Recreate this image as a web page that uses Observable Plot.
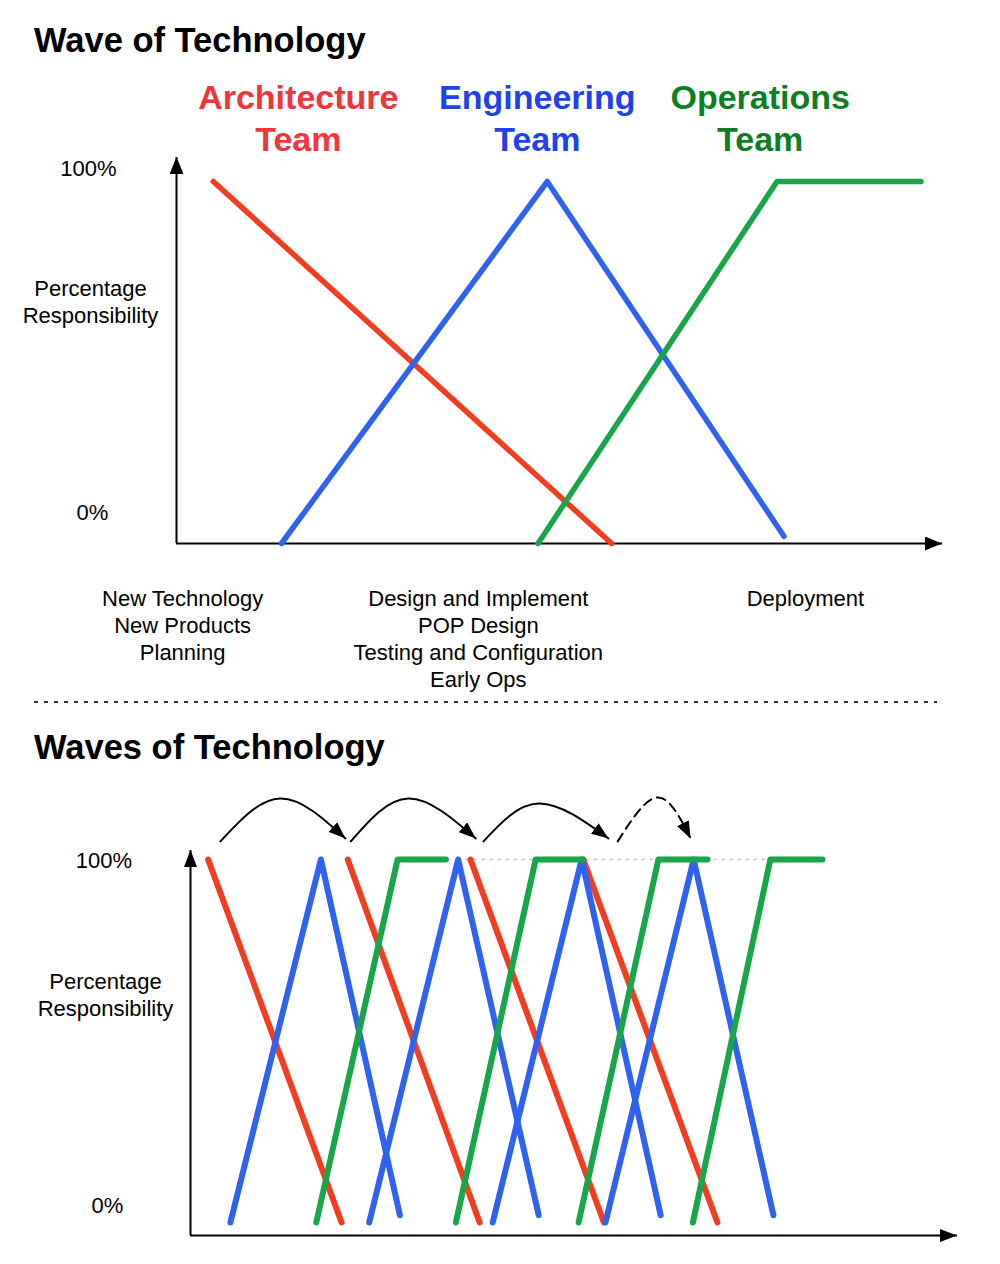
<!DOCTYPE html>
<html>
<head>
<meta charset="utf-8">
<script src="https://cdn.jsdelivr.net/npm/d3@7"></script>
<script src="https://cdn.jsdelivr.net/npm/@observablehq/plot@0.6"></script>
<style>
  body { margin: 0; background: #fff; font-family: "Liberation Sans", Arial, Helvetica, sans-serif; }
  #page { position: relative; width: 1000px; height: 1264px; overflow: hidden; background: #fff; }
  .title { position: absolute; left: 34px; font-size: 34.5px; font-weight: bold; line-height: 34px; color: #000; white-space: nowrap; }
  #t1 { top: 23px; }
  #t2 { top: 730px; }
  #sep { position: absolute; left: 34px; top: 701px; width: 903px; height: 2px;
         background: repeating-linear-gradient(to right, #333 0 4px, transparent 4px 10px); }
  .chart { position: absolute; left: 0; }
  #c1 { top: 70px; }
  #c2 { top: 770px; }
</style>
</head>
<body>
<div id="page">
  <div class="title" id="t1">Wave of Technology</div>
  <div id="sep"></div>
  <div class="title" id="t2">Waves of Technology</div>
  <div class="chart" id="c1"></div>
  <div class="chart" id="c2"></div>
</div>
<script>
// ---------- shared ----------
const FONT = '"Liberation Sans", Arial, Helvetica, sans-serif';
const teamNames = ["Architecture\nTeam", "Engineering\nTeam", "Operations\nTeam"];
const yTicks = [0, 100];
const yTickLabels = ["0%", "100%"];
const yTitle = "Percentage\nResponsibility";

// ---------- chart 1: one wave (x = time units 0..100, y = % responsibility) ----------
const archX = [4.8, 56.8];
const archY = [100, 0];
const engX = [13.7, 48.4, 79.3];
const engY = [0, 100, 2];
const opsX = [47.2, 78.4, 97.2];
const opsY = [0, 100, 100];
const teamLabelX = [15.9, 47.1, 76.2];
const phaseX = [0.8, 39.4, 82.1];
const phaseLabels = [
  "New Technology\nNew Products\nPlanning",
  "Design and Implement\nPOP Design\nTesting and Configuration\nEarly Ops",
  "Deployment"
];

// ---------- chart 2: successive waves ----------
const archStart = [2.3, 20.5, 36.5, 51.2];
const archEnd   = [19.7, 37.7, 53.9, 68.7];
const engStart  = [5.2, 23.3, 39.4, 54.1];
const engPeak   = [17.0, 34.9, 51.0, 65.6];
const engEnd    = [27.3, 45.4, 61.3, 76.0];
const engEndLevel = 2;
const opsStart  = [16.4, 34.6, 50.6, 65.5];
const opsTop    = [27.0, 45.0, 61.0, 75.6];
const opsEnd    = [33.3, 51.2, 67.4, 82.4];
const guideFrom = 34.9, guideTo = 75.6;      // dotted 100% guide
const hopFrom = [3.9, 20.9, 38.2, 55.7];
const hopPeak = [11.7, 28.4, 45.4, 60.9];
const hopTo   = [20.2, 37.2, 54.5, 65.2];
const hopFromY = [105, 105, 105, 105];
const hopPeakY = [116.8, 116.8, 115.4, 117.1];
const hopToY   = [105.8, 105.8, 105.8, 105.8];
const hopPlanned = [false, false, false, true];

// ---------- styles ----------
const lineColors = ["#f23d21", "#2f62f0", "#19a64b"];
const labelColors = ["#f2353a", "#1e42ee", "#0c7f24"];

// ---------- tables ----------
const rows1 = [
  ...archX.map((x, i) => ({team: 0, x, y: archY[i]})),
  ...engX.map((x, i) => ({team: 1, x, y: engY[i]})),
  ...opsX.map((x, i) => ({team: 2, x, y: opsY[i]}))
];
const rows2 = [];
archStart.forEach((s, i) => {
  rows2.push({team: 0, wave: i, x: s, y: 100}, {team: 0, wave: i, x: archEnd[i], y: 0});
  rows2.push({team: 1, wave: i, x: engStart[i], y: 0}, {team: 1, wave: i, x: engPeak[i], y: 100}, {team: 1, wave: i, x: engEnd[i], y: engEndLevel});
  rows2.push({team: 2, wave: i, x: opsStart[i], y: 0}, {team: 2, wave: i, x: opsTop[i], y: 100}, {team: 2, wave: i, x: opsEnd[i], y: 100});
});
const hops = [];
hopFrom.forEach((f, i) => {
  hops.push({id: i, planned: hopPlanned[i], x: f, y: hopFromY[i]},
            {id: i, planned: hopPlanned[i], x: hopPeak[i], y: hopPeakY[i]},
            {id: i, planned: hopPlanned[i], x: hopTo[i], y: hopToY[i]});
});

function addArrowheads(svg, id, len, wid) {
  const s = d3.select(svg);
  let defs = s.select("defs");
  if (defs.empty()) defs = s.insert("defs", ":first-child");
  defs.append("marker")
    .attr("id", id)
    .attr("viewBox", "0 0 10 10")
    .attr("preserveAspectRatio", "none")
    .attr("refX", 10).attr("refY", 5)
    .attr("markerUnits", "userSpaceOnUse")
    .attr("markerWidth", len).attr("markerHeight", wid)
    .attr("orient", "auto")
    .append("path").attr("d", "M0,0L10,5L0,10Z").attr("fill", "#000");
  s.selectAll('g[aria-description="arrow"] line, g[aria-description="arrow"] path')
    .attr("marker-end", `url(#${id})`);
}

const teamLines = (rows, w) => [0, 1, 2].map(t =>
  Plot.line(rows.filter(d => d.team === t), {
    x: "x", y: "y", z: "wave", stroke: lineColors[t], strokeWidth: w,
    strokeLinecap: "round", strokeLinejoin: "round"
  }));

// ---------- chart 1 ----------
const p1 = Plot.plot({
  width: 1000, height: 630,
  marginLeft: 176, marginRight: 58, marginTop: 111, marginBottom: 157,
  x: {domain: [0, 100]},
  y: {domain: [0, 100], axis: null},
  style: {fontFamily: FONT, background: "transparent", overflow: "visible", color: "#000"},
  marks: [
    Plot.ruleX([0], {y1: 0, y2: 106.6, stroke: "#000", strokeWidth: 2, ariaDescription: "arrow"}),
    Plot.ruleY([0], {x1: 0, x2: 100, stroke: "#000", strokeWidth: 2, ariaDescription: "arrow"}),
    ...teamLines(rows1, 5.5),
    ...[0, 1, 2].map(t => Plot.text([teamNames[t]], {
      x: () => teamLabelX[t], frameAnchor: "top", text: d => d, fill: labelColors[t],
      fontSize: 34, fontWeight: "bold", lineHeight: 42 / 34, lineAnchor: "bottom", dy: -31
    })),
    Plot.axisX(phaseX, {
      tickSize: 0, tickPadding: 43, fontSize: 22, lineHeight: 27 / 22, label: null,
      tickFormat: d => phaseLabels[phaseX.indexOf(d)]
    }),
    Plot.text([yTicks[1]], {y: d => d, frameAnchor: "left", text: () => yTickLabels[1], fontSize: 22, textAnchor: "middle", dx: -88, dy: -13}),
    Plot.text([yTicks[0]], {y: d => d, frameAnchor: "left", text: () => yTickLabels[0], fontSize: 22, textAnchor: "middle", dx: -84, dy: -31}),
    Plot.text([yTitle], {frameAnchor: "left", text: d => d, fontSize: 22, lineHeight: 27 / 22, textAnchor: "middle", dx: -86, dy: -62})
  ]
});
addArrowheads(p1, "ah1", 17, 14);
document.getElementById("c1").appendChild(p1);

// ---------- chart 2 ----------
const p2 = Plot.plot({
  width: 1000, height: 494,
  marginLeft: 190, marginRight: 43, marginTop: 89, marginBottom: 42,
  x: {domain: [0, 100], axis: null},
  y: {domain: [0, 100], axis: null},
  style: {fontFamily: FONT, background: "transparent", overflow: "visible", color: "#000"},
  marks: [
    Plot.ruleX([0], {y1: -3.6, y2: 102.5, stroke: "#000", strokeWidth: 2, ariaDescription: "arrow"}),
    Plot.ruleY([-3.6], {x1: 0, x2: 100, stroke: "#000", strokeWidth: 2, ariaDescription: "arrow"}),
    Plot.ruleY([100], {x1: guideFrom, x2: guideTo, stroke: "#9fc9c9", strokeWidth: 1.5, strokeDasharray: "3,5"}),
    ...teamLines(rows2, 6),
    Plot.line(hops.filter(d => !d.planned), {x: "x", y: "y", z: "id", curve: "natural", stroke: "#000", strokeWidth: 2, ariaDescription: "arrow"}),
    Plot.line(hops.filter(d => d.planned), {x: "x", y: "y", z: "id", curve: "natural", stroke: "#000", strokeWidth: 2, strokeDasharray: "9,6", ariaDescription: "arrow"}),
    Plot.text([yTicks[1]], {y: d => d, frameAnchor: "left", text: () => yTickLabels[1], fontSize: 22, textAnchor: "middle", dx: -86.5, dy: 1}),
    Plot.text([yTicks[0]], {y: d => d, frameAnchor: "left", text: () => yTickLabels[0], fontSize: 22, textAnchor: "middle", dx: -83, dy: -17}),
    Plot.text([yTitle], {frameAnchor: "left", text: d => d, fontSize: 22, lineHeight: 27 / 22, textAnchor: "middle", dx: -85, dy: -47})
  ]
});
addArrowheads(p2, "ah2", 17, 13);
document.getElementById("c2").appendChild(p2);
</script>
</body>
</html>
